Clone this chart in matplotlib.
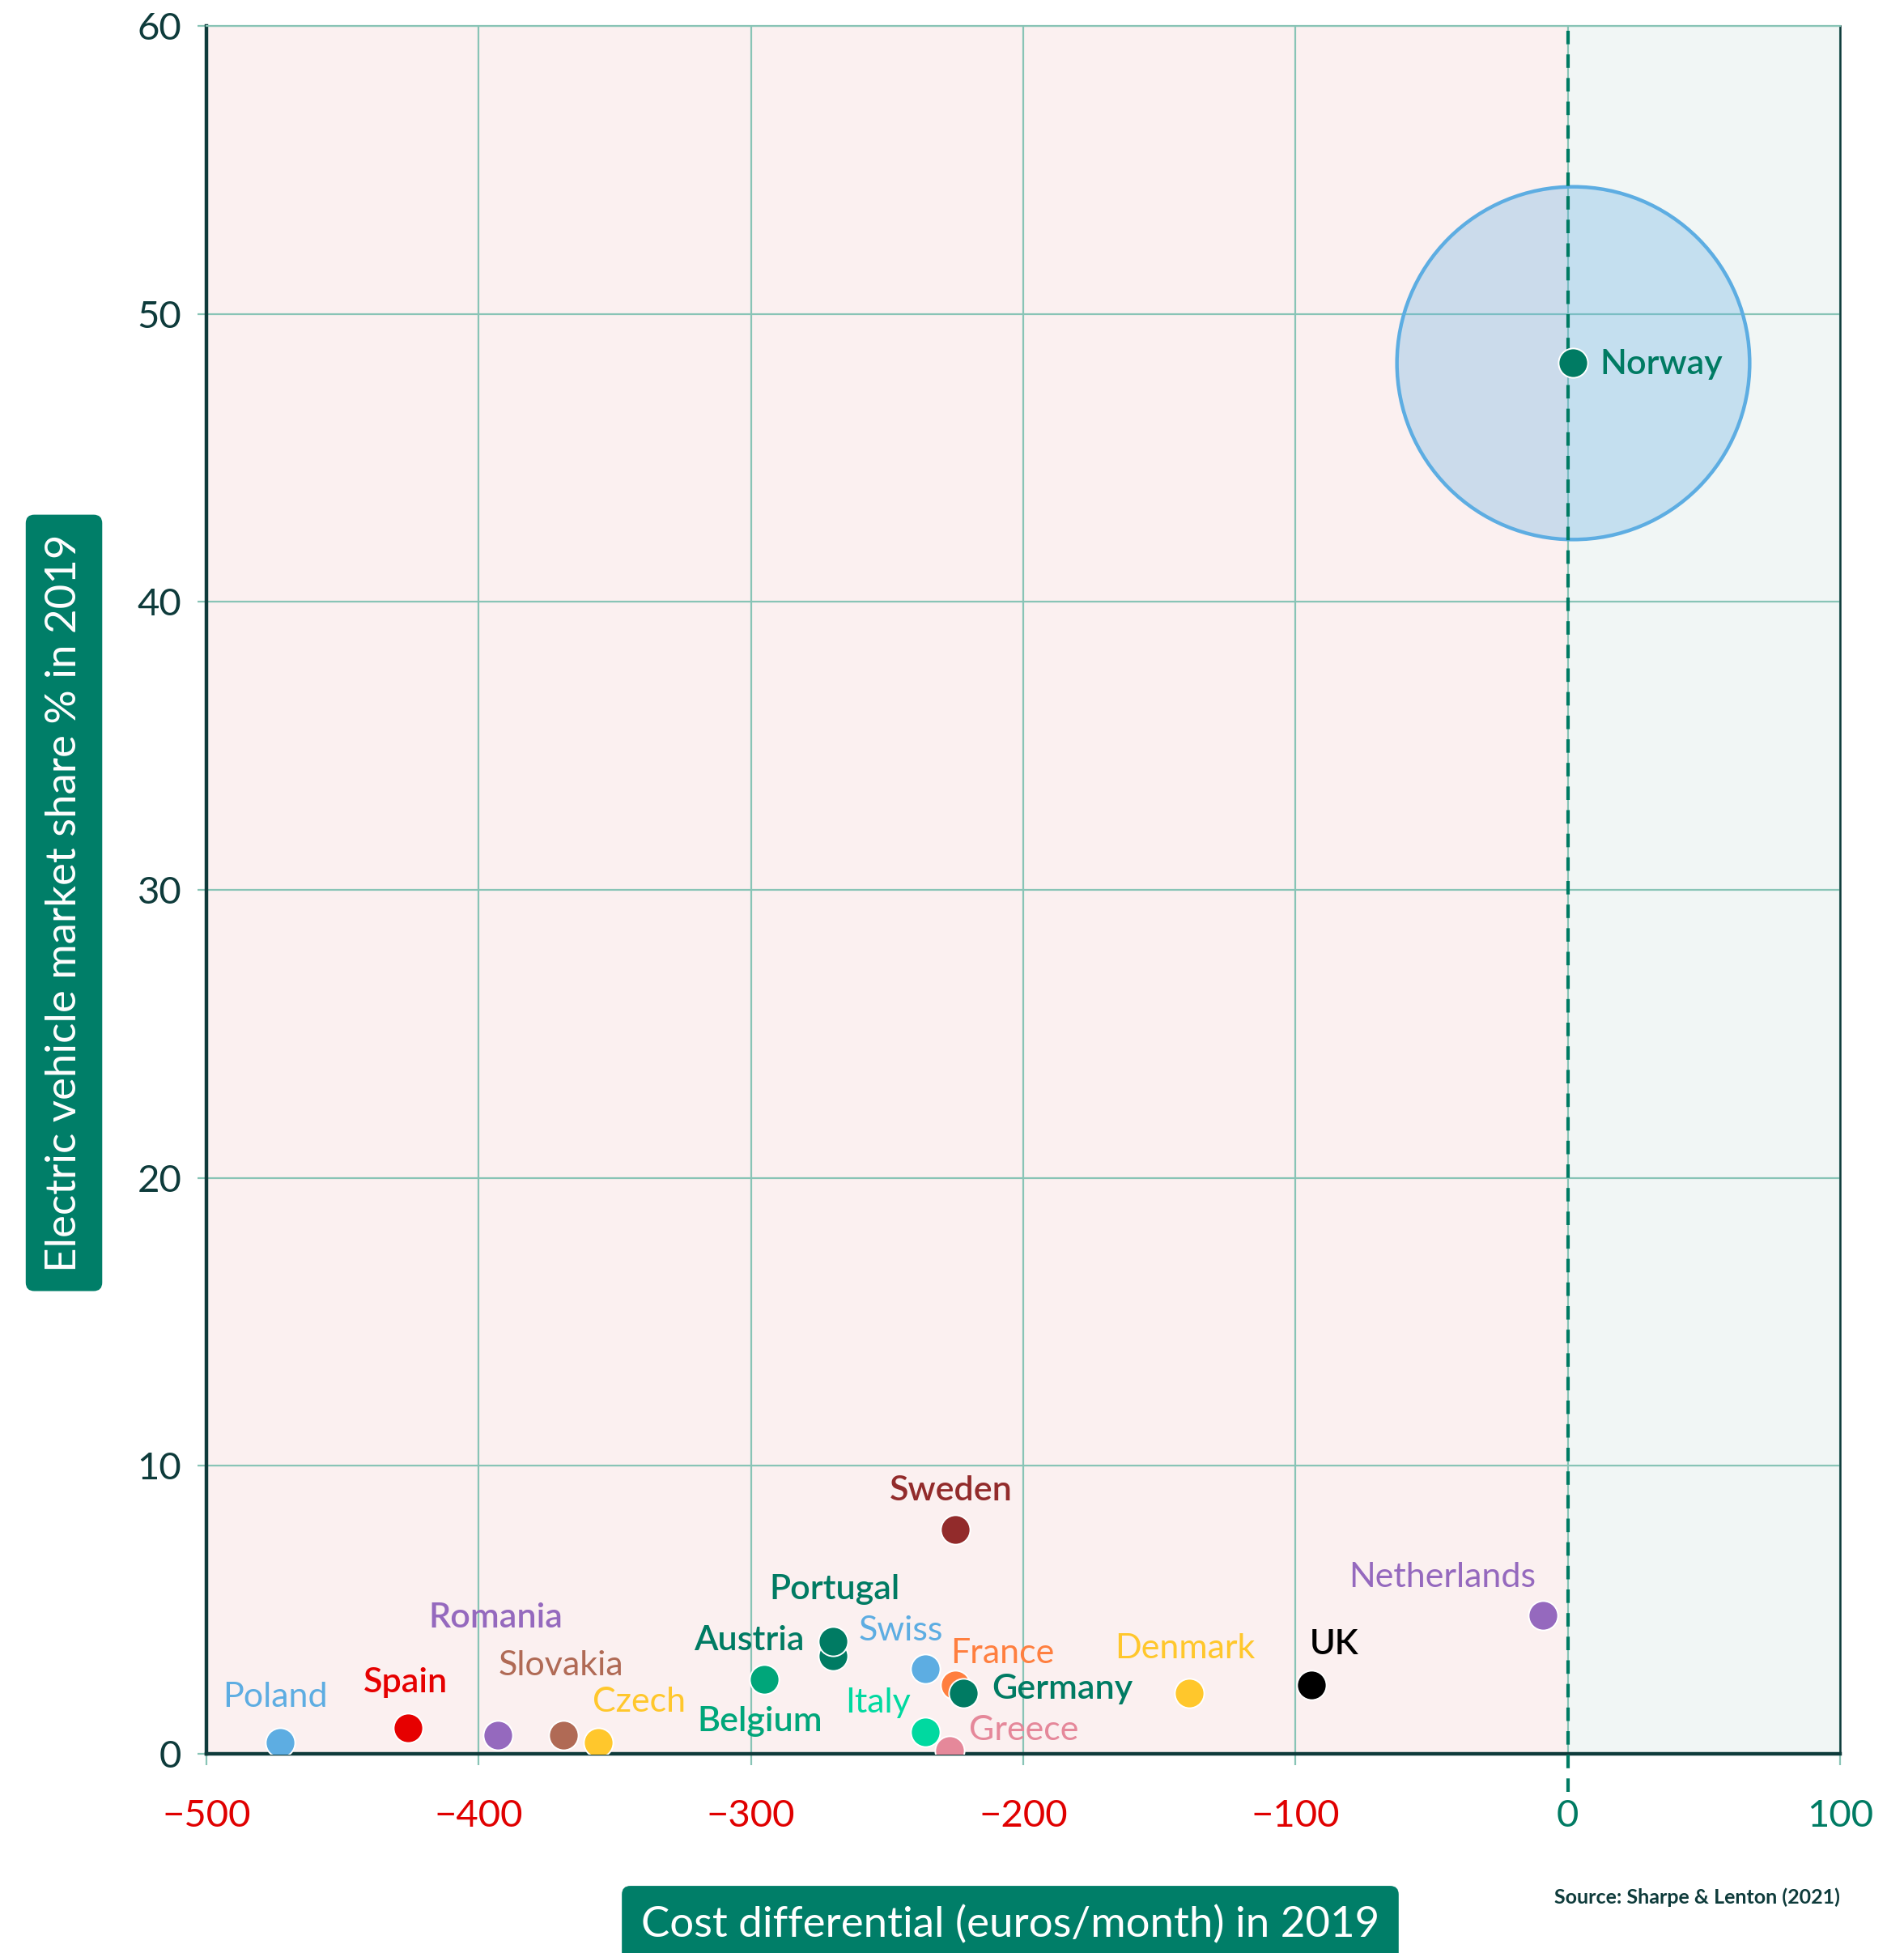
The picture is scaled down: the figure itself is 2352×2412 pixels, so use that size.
import matplotlib
matplotlib.use("Agg")
import matplotlib.pyplot as plt

plt.rcParams['font.family'] = ['Lato', 'DejaVu Sans']

# Data
countries = ["Poland", "Spain", "Romania", "Slovakia", "Czech", "Belgium", "Austria",
             "Portugal", "Swiss", "France", "Germany", "Italy", "Greece", "Sweden",
             "Denmark", "UK", "Netherlands", "Norway"]
cost_diff = [-473, -426, -393, -369, -356, -295, -270, -270, -236, -225, -222, -236,
             -227, -225, -139, -94, -9, 2]
ev_share = [0.4, 0.9, 0.65, 0.65, 0.4, 2.6, 3.4, 3.9, 2.95, 2.4, 2.1, 0.75, 0.1, 7.8,
            2.1, 2.4, 4.8, 48.3]
colors = ["#5DADE2", "#E60000", "#9569BE", "#B06A55", "#FFC72C", "#00A67A", "#007B63",
          "#007B63", "#5DADE2", "#FF7F3F", "#007B63", "#00D9A0", "#E5889A", "#922B2B",
          "#FFC72C", "#000000", "#9569BE", "#007B63"]
# label offsets in points, and weights
label_dx = [-2, -1, -1, -1, 18, -2, -37, 1, -11, 21, 44, -21, 33, -2, -2, 10, -45, 12]
label_dy = [20, 20, 52, 31, 18, -19, 7, 23, 17, 14, 2, 13, 9, 17, 20, 18, 17, -0.5]
bold = ["Spain", "Romania", "Austria", "Portugal", "Belgium", "Germany", "Sweden", "UK", "Norway"]

xticks = [-500, -400, -300, -200, -100, 0, 100]
yticks = [0, 10, 20, 30, 40, 50, 60]

dark = "#0E3B3B"
green = "#007E68"
gridc = "#88C4B6"

fig = plt.figure(figsize=(11.76, 12.06), dpi=200)
ax = fig.add_axes([0.1084, 0.1020, 0.858, 0.8847])

ax.axvspan(-500, 0, color="#FBF0F0", zorder=0, lw=0)
ax.axvspan(0, 100, color="#F1F6F5", zorder=0, lw=0)

ax.set_xlim(-500, 100)
ax.set_ylim(0, 60)
ax.set_xticks(xticks)
ax.set_yticks(yticks)
ax.grid(True, color=gridc, lw=0.8, zorder=1)

# highlight bubble around Norway
ax.scatter([cost_diff[-1]], [ev_share[-1]], s=24600, facecolor=(0.365, 0.678, 0.886, 0.3),
           edgecolor="#5DADE2", linewidth=1.6, zorder=2)

ax.axvline(0, ymin=-0.022, ymax=1, color="#007B63", lw=1.5, ls=(0, (4, 3)),
           clip_on=False, zorder=3)

for i, c in enumerate(countries):
    ax.scatter(cost_diff[i], ev_share[i], s=170, color=colors[i], edgecolor="white",
               linewidth=0.7, zorder=4 + i * 0.01)
    ha = "left" if c == "Norway" else "center"
    ax.annotate(c, (cost_diff[i], ev_share[i]), xytext=(label_dx[i], label_dy[i]),
                textcoords="offset points", ha=ha, va="center", color=colors[i],
                fontsize=15.5, fontweight="semibold" if c in bold else "normal", zorder=6)

for s in ["left", "bottom"]:
    ax.spines[s].set_color(dark)
    ax.spines[s].set_linewidth(1.6)
ax.spines["right"].set_color(dark)
ax.spines["right"].set_linewidth(0.9)
ax.spines["top"].set_color(gridc)
ax.spines["top"].set_linewidth(0.8)

ax.tick_params(axis="x", length=5, width=0.8, color=gridc, pad=15, labelsize=17)
ax.tick_params(axis="y", length=4, width=0.8, color=gridc, pad=7, labelsize=17,
               labelcolor=dark)
ax.set_xticklabels([str(t).replace("-", "\u2212") for t in xticks])
for t, lab in zip(xticks, ax.get_xticklabels()):
    lab.set_color("#E00000" if t < 0 else "#007B63")

fig.text(0.0336, 0.5377, "Electric vehicle market share % in 2019", rotation=90,
         ha="center", va="center", color="white", fontsize=19,
         bbox=dict(boxstyle="round,pad=0.45,rounding_size=0.2", fc=green, ec="none"))
fig.text(0.5306, 0.0145, "Cost differential (euros/month) in 2019", ha="center",
         va="center", color="white", fontsize=19,
         bbox=dict(boxstyle="round,pad=0.45,rounding_size=0.2", fc=green, ec="none"))
fig.text(0.9664, 0.0286, "Source: Sharpe & Lenton (2021)", ha="right", va="center",
         color=dark, fontsize=9, fontweight="bold")

fig.savefig("out.png", dpi=200, facecolor="white")
